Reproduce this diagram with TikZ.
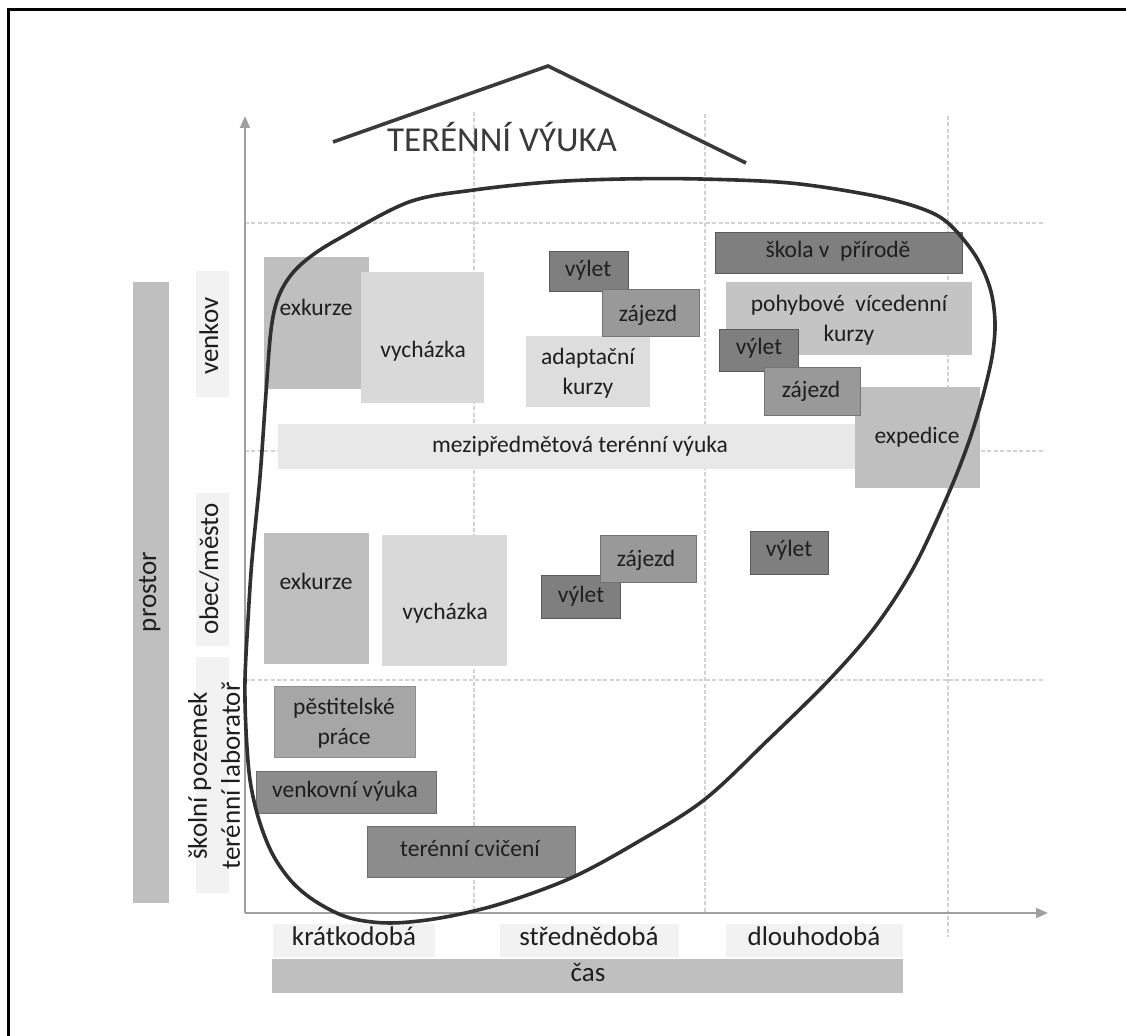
\documentclass[tikz,border=0pt]{standalone}
\usepackage{fontspec}
\setmainfont{Carlito}
\usetikzlibrary{fit,arrows.meta}
\definecolor{txt}{HTML}{1E1E1E}
\definecolor{ttl}{HTML}{3A3A3A}
\definecolor{dkf}{HTML}{7F7F7F}
\definecolor{dkd}{HTML}{5A5A5A}
\definecolor{mdf}{HTML}{999999}
\definecolor{mdd}{HTML}{747474}
\definecolor{vvf}{HTML}{8C8C8C}
\definecolor{vvd}{HTML}{6E6E6E}
\definecolor{psf}{HTML}{A6A6A6}
\definecolor{psd}{HTML}{8F8F8F}
\definecolor{exf}{HTML}{BFBFBF}
\definecolor{phf}{HTML}{C4C4C4}
\definecolor{vcf}{HTML}{D9D9D9}
\definecolor{adf}{HTML}{DDDDDD}
\definecolor{mzf}{HTML}{E8E8E8}
\definecolor{lbf}{HTML}{F2F2F2}
\definecolor{barf}{HTML}{BFBFBF}
\definecolor{axc}{HTML}{A0A0A0}
\definecolor{grd}{HTML}{D2D2D2}
\definecolor{outc}{HTML}{303030}
\begin{document}
\begin{tikzpicture}[x=0.5pt,y=-0.5pt,
  bx/.style={rectangle,inner sep=0pt,outer sep=0pt},
  dkbox/.style={bx,fill=dkf,draw=dkd,line width=0.5pt},
  mdbox/.style={bx,fill=mdf,draw=mdd,line width=0.5pt},
  vvbox/.style={bx,fill=vvf,draw=vvd,line width=0.5pt},
  psbox/.style={bx,fill=psf,draw=psd,line width=0.5pt},
  lbl/.style={font=\fontsize{11.75}{15}\selectfont,text=txt,inner sep=0pt,text height=0.75em,text depth=0.25em},
  lbl2/.style={font=\fontsize{11.75}{15}\selectfont,text=txt,inner sep=0pt,align=center},
  axl/.style={font=\fontsize{13.5}{16.5}\selectfont,text=txt,inner sep=0pt,text height=0.75em,text depth=0.25em},
  axl2/.style={font=\fontsize{13.5}{16.5}\selectfont,text=txt,inner sep=0pt,align=center},
  grid/.style={grd,line width=0.6pt,dash pattern=on 2pt off 1.2pt},
  axis/.style={axc,line width=1pt,-{Triangle[length=6pt,width=5pt]}},
  frameline/.style={black,line width=1.5pt},
  roof/.style={ttl,line width=1.8pt},
  outline/.style={outc,line width=1.8pt}
]
\useasboundingbox (0,0) rectangle (1126,1036);
\fill[white] (0,0) rectangle (1126,1036);

% frame (left and top edges)
\coordinate (fBL) at (8,1036);
\coordinate (fTL) at (8,10);
\coordinate (fTR) at (1126,10);
\draw[frameline] (fBL) -- (fTL) -- (fTR);

% grid
\coordinate (g1t) at (474,112); \coordinate (g1b) at (474,913);
\coordinate (g2t) at (705,114); \coordinate (g2b) at (705,913);
\coordinate (g3t) at (948,116); \coordinate (g3b) at (948,937);
\coordinate (h1l) at (245,223); \coordinate (h1r) at (1045,223);
\coordinate (h2l) at (245,451); \coordinate (h2r) at (1045,451);
\coordinate (h3l) at (245,680); \coordinate (h3r) at (1045,680);
\draw[grid] (g1t) -- (g1b);
\draw[grid] (g2t) -- (g2b);
\draw[grid] (g3t) -- (g3b);
\draw[grid] (h1l) -- (h1r);
\draw[grid] (h2l) -- (h2r);
\draw[grid] (h3l) -- (h3r);

% axes
\coordinate (O) at (245,913);
\coordinate (ytip) at (245,116);
\coordinate (xtip) at (1048,913);
\draw[axis] (O) -- (ytip);
\draw[axis] (O) -- (xtip);

% roof and title
\coordinate (rL) at (333,142);
\coordinate (rP) at (548,66);
\coordinate (rR) at (746,163);
\draw[roof] (rL) -- (rP) -- (rR);
\node[font=\fontsize{17.5}{20}\selectfont,text=ttl,inner sep=0pt,anchor=base] (title) at (502,152) {TERÉNNÍ VÝUKA};

% left labels
\node[bx,fill=barf,fit={(133,282)(169,903)}] (prostorbar) {};
\node[axl,rotate=90] (prostor) at (151,592) {prostor};
\node[bx,fill=lbf,fit={(196,271)(229,397)}] (venkovbox) {};
\node[axl,rotate=90] (venkov) at (213,336) {venkov};
\node[bx,fill=lbf,fit={(196,493)(229,646)}] (obecbox) {};
\node[axl,rotate=90] (obec) at (213,569) {obec/město};
\node[bx,fill=lbf,fit={(196,657)(229,893)}] (skolbox) {};
\node[axl2,rotate=90] (skol) at (214,776) {školní pozemek\\terénní laboratoř};

% bottom labels
\node[bx,fill=lbf,fit={(273,924)(435,957)}] (kratbox) {};
\node[axl] (krat) at (354,941) {krátkodobá};
\node[bx,fill=lbf,fit={(500,924)(679,957)}] (strbox) {};
\node[axl] (str) at (589,941) {střednědobá};
\node[bx,fill=lbf,fit={(726,924)(903,957)}] (dlbox) {};
\node[axl] (dl) at (814,941) {dlouhodobá};
\node[bx,fill=barf,fit={(272,959)(903,993)}] (casbar) {};
\node[axl] (cas) at (588,977) {čas};

% venkov row
\node[bx,fill=exf,fit={(264,257)(369,389)}] (exkA) {};
\node[lbl] (exkAt) at (316,311) {exkurze};
\node[bx,fill=vcf,fit={(361,272)(484,403)}] (vychA) {};
\node[lbl] (vychAt) at (423,353) {vycházka};
\node[bx,fill=adf,fit={(526,336)(650,407)}] (adapt) {};
\node[lbl2] (adaptt) at (588,373) {adaptační\\kurzy};
\node[dkbox,fit={(549,252)(628,292)}] (vyletA) {};
\node[lbl] (vyletAt) at (588,272) {výlet};
\node[mdbox,fit={(602,290)(699,337)}] (zajA) {};
\node[lbl] (zajAt) at (648,317) {zájezd};
\node[dkbox,fit={(715,233)(962,274)}] (skola) {};
\node[lbl] (skolat) at (838,253) {škola v~ přírodě};
\node[bx,fill=phf,fit={(726,282)(972,355)}] (pohyb) {};
\node[lbl2] (pohybt) at (849,320) {pohybové~ vícedenní\\kurzy};
\node[dkbox,fit={(719,330)(798,372)}] (vyletB) {};
\node[lbl] (vyletBt) at (759,350) {výlet};
\node[bx,fill=mzf,fit={(278,424)(855,469)}] (mezi) {};
\node[lbl] (mezit) at (580,448) {mezipředmětová terénní výuka};
\node[bx,fill=exf,fit={(855,387)(980,488)}] (exped) {};
\node[lbl] (expedt) at (917,439) {expedice};
\node[mdbox,fit={(764,368)(860,416)}] (zajB) {};
\node[lbl] (zajBt) at (811,393) {zájezd};

% obec/mesto row
\node[bx,fill=exf,fit={(264,533)(369,664)}] (exkB) {};
\node[lbl] (exkBt) at (316,585) {exkurze};
\node[bx,fill=vcf,fit={(382,535)(507,666)}] (vychB) {};
\node[lbl] (vychBt) at (445,615) {vycházka};
\node[dkbox,fit={(541,576)(620,619)}] (vyletC) {};
\node[lbl] (vyletCt) at (581,598) {výlet};
\node[mdbox,fit={(600,536)(696,583)}] (zajC) {};
\node[lbl] (zajCt) at (646,562) {zájezd};
\node[dkbox,fit={(750,532)(828,575)}] (vyletD) {};
\node[lbl] (vyletDt) at (789,552) {výlet};

% skolni pozemek row
\node[psbox,fit={(274,687)(415,758)}] (pest) {};
\node[lbl2] (pestt) at (344,723) {pěstitelské\\práce};
\node[vvbox,fit={(256,772)(436,814)}] (venk) {};
\node[lbl] (venkt) at (345,793) {venkovní výuka};
\node[vvbox,fit={(367,827)(575,878)}] (tercv) {};
\node[lbl] (tercvt) at (470,852) {terénní cvičení};

% enclosing outline
\draw[outline] plot[smooth cycle,tension=0.55] coordinates {
 (245,680) (248,620) (252,560) (260,477) (266,393) (271,330) (278,298)
 (291,275) (310,257) (340,238) (409,202) (474,190) (550,182) (623,179)
 (700,179) (790,183) (870,195) (920,208) (948,223) (975,255) (990,288)
 (995,322) (992,357) (981,403) (967,447) (947,497) (914,567) (875,627)
 (829,680) (768,740) (704,800) (636,843) (571,878) (500,904) (440,918)
 (390,923) (350,918) (318,903) (293,883) (273,855) (259,820) (250,780)
 (246,730)};
\end{tikzpicture}
\end{document}
